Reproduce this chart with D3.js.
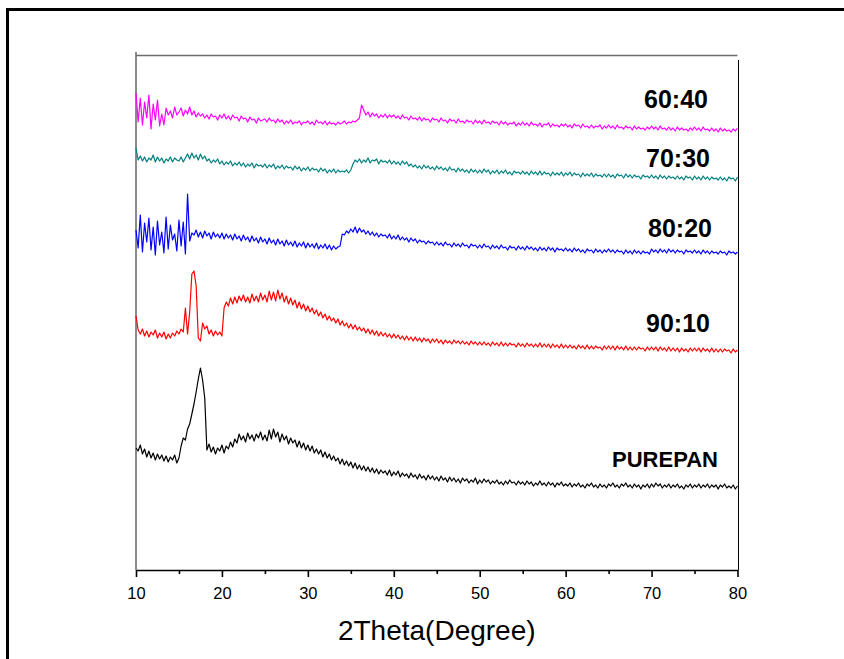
<!DOCTYPE html>
<html>
<head>
<meta charset="utf-8">
<script src="https://cdn.jsdelivr.net/npm/d3@7"></script>
<style>
  body { margin: 0; background: #fff; }
  svg { display: block; }
</style>
</head>
<body>
<svg id="chart" width="844" height="659"></svg>
<script>
// XRD scans, 2theta 10..80 deg, step 0.25, stacked intensity (a.u.)
const scanStart = 10;
const scanStep = 0.25;

const sampleNames = ['PUREPAN', '90:10', '80:20', '70:30', '60:40'];
const sampleColors = ['#000000', '#ff0000', '#0000ff', '#008080', '#ff00ff'];
const xTicks = [10, 20, 30, 40, 50, 60, 70, 80];
const xMinorTicks = [15, 25, 35, 45, 55, 65, 75];

const purePan = [
  122,119,125,116,121,113,119,112,117,110,116,111,115,109,114,108,113,110,115,107,
  112,124,132,130,141,146,156,166,178,191,202,190,172,120,126,118,123,116,122,119,
  125,117,124,121,128,123,131,127,136,130,134,128,137,131,135,129,136,132,138,130,
  135,129,140,131,141,133,138,128,136,130,134,126,132,127,130,123,129,122,127,120,
  125,119,124,117,121,116,120,113,118,112,116,110,114,109,112,106,111,105,109,104,
  108,102,107,101,105,100,104,99,103,98,102,97,101,96,100,97,99,95,100,94,
  98,95,99,93,97,94,96,92,97,93,95,91,96,92,94,90,95,91,94,90,
  93,89,94,90,92,88,93,89,92,88,91,87,92,89,91,87,90,88,92,86,
  90,87,91,88,90,86,89,87,90,86,88,85,89,86,90,87,88,85,89,86,
  88,85,89,86,88,84,87,85,89,85,87,84,88,85,87,83,87,85,88,84,
  86,84,87,83,86,84,87,83,85,82,86,84,87,83,85,82,86,83,85,82,
  86,84,87,83,85,82,86,84,87,83,85,82,86,83,85,81,85,83,86,82,
  86,83,87,84,86,82,85,83,86,82,85,83,86,82,84,81,85,83,86,82,
  85,83,86,82,85,83,86,82,85,83,85,81,85,83,86,82,84,82,85,81,
  84
];

const ratio9010 = [
  254,240,236,241,234,239,233,238,235,240,232,237,233,238,231,236,232,237,234,239,
  236,241,238,262,236,258,296,299,284,232,229,247,241,244,236,240,234,239,235,238,
  234,262,268,264,272,266,273,267,274,269,275,268,273,267,276,269,274,268,277,270,
  275,268,279,270,278,269,280,271,277,268,274,266,272,265,270,262,268,261,266,259,
  264,258,262,256,260,254,258,252,256,250,254,249,252,247,251,245,249,244,247,242,
  246,241,245,240,243,239,242,237,241,236,240,235,239,234,238,234,237,233,236,232,
  236,232,235,231,234,230,234,230,233,229,233,229,232,228,232,229,231,227,231,228,
  231,227,230,226,230,227,229,226,230,227,229,226,229,226,228,225,229,226,228,225,
  228,225,228,225,227,224,228,225,227,224,228,224,227,224,227,225,226,223,227,224,
  226,223,227,224,226,223,226,223,227,223,226,223,226,222,226,223,225,222,226,222,
  225,222,225,222,224,221,225,222,224,221,225,221,224,221,224,222,223,220,224,221,
  224,221,224,220,224,221,223,220,224,220,223,220,223,220,223,221,222,219,223,220,
  223,220,223,219,223,220,222,219,223,219,222,219,222,218,222,219,221,218,222,219,
  222,219,222,218,222,219,221,218,222,218,221,218,221,218,221,219,220,217,221,218,
  220
];

const ratio8020 = [
  340,322,355,318,347,328,352,320,343,315,349,325,338,317,353,321,345,330,336,319,
  350,324,348,316,376,329,337,335,340,333,338,332,339,334,337,331,338,333,336,332,
  337,331,336,332,335,330,336,331,334,329,335,330,333,328,334,329,332,327,333,328,
  331,326,332,327,330,325,331,326,329,324,330,325,328,324,329,323,327,324,328,322,
  327,323,326,322,327,321,325,322,326,321,325,320,324,321,323,324,336,335,339,337,
  341,338,343,337,342,338,340,336,339,335,338,334,337,333,336,334,335,332,336,331,
  334,331,335,330,333,330,332,328,332,329,331,327,330,328,329,326,329,327,328,325,
  328,325,327,324,328,325,326,323,327,324,326,323,327,324,325,322,326,324,325,322,
  325,322,326,323,324,321,325,322,324,321,325,322,323,320,324,322,323,320,324,321,
  323,320,324,321,323,320,322,319,323,320,322,319,323,320,322,318,322,320,321,319,
  322,319,321,318,322,319,321,318,320,317,321,319,320,317,321,318,320,317,320,318,
  321,318,320,317,320,318,319,316,320,317,319,316,320,317,319,316,319,317,318,316,
  321,318,320,317,321,318,320,317,321,318,320,317,320,318,319,316,320,318,319,317,
  320,317,319,316,320,317,319,316,319,317,318,316,319,317,318,315,319,317,318,316,
  318
];

const ratio7030 = [
  422,410,414,409,413,408,412,410,415,408,413,409,412,407,411,409,413,408,412,410,
  409,413,408,412,416,411,417,412,415,410,416,411,414,409,411,407,410,408,411,406,
  409,405,408,406,409,404,407,405,408,404,407,403,406,404,407,402,406,404,405,403,
  406,402,405,403,406,401,404,402,405,401,404,402,403,400,404,401,403,399,402,400,
  403,399,402,400,401,398,402,399,401,397,400,398,401,397,400,398,399,398,400,397,
  400,406,410,408,411,407,410,408,412,407,410,409,411,406,410,408,409,407,410,406,
  409,406,408,405,409,406,408,404,406,403,405,402,404,401,405,402,404,401,403,400,
  404,401,403,400,402,399,403,400,401,398,402,399,401,398,400,397,401,398,400,397,
  400,397,401,398,400,396,399,397,400,396,399,397,400,396,398,395,399,397,398,396,
  399,396,398,395,399,396,398,395,399,395,398,396,397,394,398,395,397,395,398,394,
  397,395,398,394,397,395,396,393,397,394,396,394,397,393,396,394,395,393,396,393,
  396,393,395,392,396,394,395,392,396,393,395,392,395,393,394,391,395,393,394,392,
  395,392,394,391,395,392,394,391,394,392,393,391,394,391,393,390,394,392,393,390,
  394,391,393,390,394,391,393,390,393,391,392,390,393,390,392,389,393,391,392,389,
  393
];

const ratio6040 = [
  477,448,472,445,468,452,475,441,466,450,470,444,456,445,462,455,459,452,463,455,
  458,462,454,460,456,463,455,459,453,457,454,456,452,455,451,456,453,454,450,455,
  452,456,451,454,450,455,452,453,449,454,451,452,448,453,450,451,447,452,449,450,
  451,448,452,449,450,447,451,448,450,446,449,447,450,446,448,447,449,445,448,447,
  449,446,448,445,450,447,448,446,449,445,448,446,447,445,448,446,447,449,446,448,
  447,449,448,450,452,465,460,455,458,453,457,454,456,452,455,453,456,452,455,453,
  455,452,454,451,455,452,453,450,454,451,452,450,453,449,452,450,451,448,452,450,
  451,448,452,449,450,447,451,449,450,447,451,448,449,447,450,448,449,446,450,447,
  449,446,450,447,448,446,449,447,448,445,449,446,448,445,447,446,448,444,447,445,
  448,445,447,444,448,445,446,444,447,443,446,445,447,443,446,444,445,443,446,444,
  446,443,445,442,446,444,445,442,446,443,444,442,445,442,444,443,445,441,444,442,
  445,442,444,441,445,442,443,441,444,442,443,440,444,441,443,441,442,440,443,441,
  444,441,443,440,444,441,442,440,443,440,442,439,443,440,442,440,441,439,442,440,
  443,440,442,439,443,440,441,439,442,439,441,438,442,439,441,439,440,438,441,439,
  442
];

const seriesValues = [purePan, ratio9010, ratio8020, ratio7030, ratio6040];

const series = sampleNames.map((name, k) => ({
  name: name,
  color: sampleColors[k],
  points: seriesValues[k].map((v, i) => ({ x: scanStart + i * scanStep, y: v }))
}));

// label anchors: right edge x, baseline y (px)
const labelLayout = [
  { x: 718, y: 467, size: 22 },
  { x: 710, y: 332, size: 25 },
  { x: 712, y: 237, size: 25 },
  { x: 710, y: 167, size: 25 },
  { x: 708, y: 108, size: 25 }
];

const svg = d3.select('#chart');

const plotLeft = 136, plotRight = 737.5, plotTop = 55, plotBottom = 570;

const x = d3.scaleLinear().domain([10, 80]).range([plotLeft, plotRight]);
const y = d3.scaleLinear().domain([0, 515]).range([plotBottom, plotTop]);

// outer frame
svg.append('rect')
  .attr('x', 7.5).attr('y', 9.5)
  .attr('width', 1000).attr('height', 1000)
  .attr('fill', 'none')
  .attr('stroke', '#000')
  .attr('stroke-width', 3);

// plot frame
svg.append('line')
  .attr('x1', plotLeft).attr('x2', plotRight).attr('y1', plotTop + 0.5).attr('y2', plotTop + 0.5)
  .attr('stroke', '#6e6e6e').attr('stroke-width', 1.6);
svg.append('line')
  .attr('x1', plotLeft).attr('x2', plotLeft).attr('y1', 52).attr('y2', plotBottom)
  .attr('stroke', '#6e6e6e').attr('stroke-width', 1.6);
svg.append('line')
  .attr('x1', plotRight + 1).attr('x2', plotRight + 1).attr('y1', 60).attr('y2', plotBottom)
  .attr('stroke', '#000').attr('stroke-width', 1);

// traces
const line = d3.line().x(d => x(d.x)).y(d => y(d.y));

svg.append('g')
  .selectAll('path')
  .data(series)
  .enter()
  .append('path')
  .attr('d', d => line(d.points))
  .attr('fill', 'none')
  .attr('stroke', d => d.color)
  .attr('stroke-width', 1.2)
  .attr('stroke-linejoin', 'round');

// sample labels
svg.append('g')
  .selectAll('text')
  .data(series)
  .enter()
  .append('text')
  .attr('x', (d, i) => labelLayout[i].x)
  .attr('y', (d, i) => labelLayout[i].y)
  .attr('text-anchor', 'end')
  .attr('font-family', 'Liberation Sans, Arial, sans-serif')
  .attr('font-weight', 'bold')
  .attr('font-size', (d, i) => labelLayout[i].size)
  .attr('fill', '#000')
  .text(d => d.name);

// x axis
const xAxis = svg.append('g')
  .attr('transform', `translate(0, ${plotBottom})`)
  .call(d3.axisBottom(x).tickValues(xTicks).tickSize(7).tickSizeOuter(0).tickPadding(10));

xAxis.select('.domain').attr('stroke', '#000').attr('stroke-width', 1.7);
xAxis.selectAll('.tick line').attr('stroke', '#000').attr('stroke-width', 1.6);
xAxis.selectAll('.tick text')
  .attr('font-family', 'Liberation Sans, Arial, sans-serif')
  .attr('font-size', 16.5)
  .attr('fill', '#000');

const xMinor = svg.append('g')
  .attr('transform', `translate(0, ${plotBottom})`)
  .call(d3.axisBottom(x).tickValues(xMinorTicks).tickSize(4).tickSizeOuter(0).tickFormat(''));
xMinor.select('.domain').remove();
xMinor.selectAll('.tick line').attr('stroke', '#000').attr('stroke-width', 1.6);

// axis title
svg.append('text')
  .attr('x', (plotLeft + plotRight) / 2)
  .attr('y', 640)
  .attr('text-anchor', 'middle')
  .attr('font-family', 'Liberation Sans, Arial, sans-serif')
  .attr('font-size', 28)
  .attr('fill', '#000')
  .text('2Theta(Degree)');
</script>
</body>
</html>
